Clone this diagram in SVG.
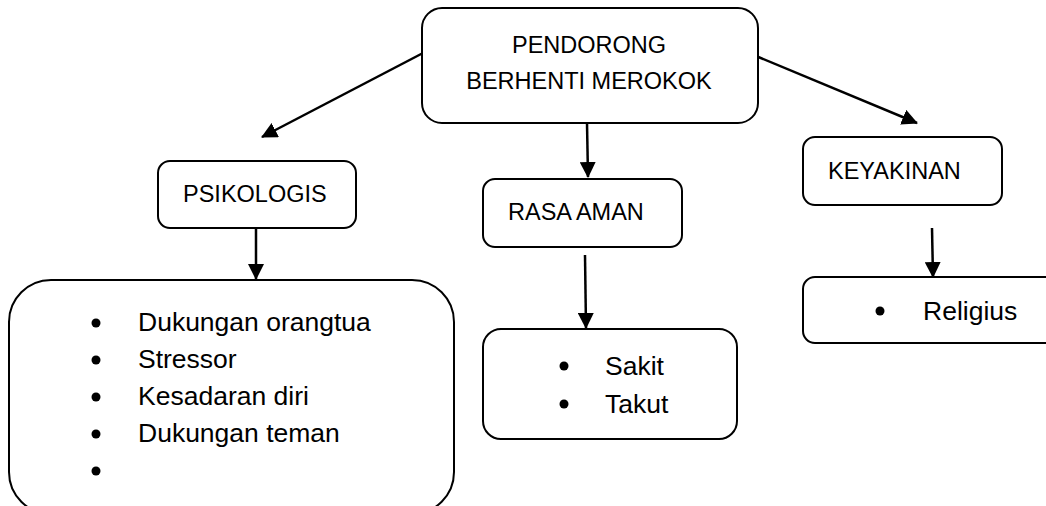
<svg xmlns="http://www.w3.org/2000/svg" width="1046" height="506" viewBox="0 0 1046 506">
<style>
.box{fill:#fff;stroke:#000;stroke-width:2}
.cap{font-family:"Liberation Sans",Arial,sans-serif;font-size:23.5px;fill:#000}
.item{font-family:"Liberation Sans",Arial,sans-serif;font-size:26.5px;fill:#000}
.conn{stroke:#000;stroke-width:2.5;fill:none;marker-end:url(#ah)}
</style>
<defs>
<marker id="ah" markerUnits="userSpaceOnUse" markerWidth="16" markerHeight="16" viewBox="0 0 16 16" refX="15" refY="8" orient="auto">
<path d="M0,0 L16,8 L0,16 Z" fill="#000"/>
</marker>
</defs>
<rect width="1046" height="506" fill="#fff"/>
<g id="connectors">
<line class="conn" x1="423" y1="53" x2="262" y2="137"/>
<line class="conn" x1="756" y1="56" x2="917" y2="123"/>
<line class="conn" x1="587" y1="123" x2="588" y2="177"/>
<line class="conn" x1="256" y1="228" x2="256" y2="279"/>
<line class="conn" x1="585" y1="255" x2="586" y2="328"/>
<line class="conn" x1="932" y1="228" x2="933" y2="277"/>
</g>
<g id="pendorong">
<rect class="box" x="422" y="8" width="336" height="115" rx="20"/>
<text class="cap" x="589" y="53" text-anchor="middle">PENDORONG</text>
<text class="cap" x="589" y="89" text-anchor="middle">BERHENTI MEROKOK</text>
</g>
<g id="psikologis">
<rect class="box" x="158" y="161" width="198" height="67" rx="12"/>
<text class="cap" x="183" y="202">PSIKOLOGIS</text>
</g>
<g id="rasa-aman">
<rect class="box" x="483" y="179" width="199" height="68" rx="12"/>
<text class="cap" x="508" y="220">RASA AMAN</text>
</g>
<g id="keyakinan">
<rect class="box" x="803" y="137" width="199" height="68" rx="12"/>
<text class="cap" x="828" y="179">KEYAKINAN</text>
</g>
<g id="psikologis-list">
<rect class="box" x="9" y="280" width="445" height="234" rx="42"/>
<circle cx="96" cy="323" r="4.5"/>
<circle cx="96" cy="360" r="4.5"/>
<circle cx="96" cy="397" r="4.5"/>
<circle cx="96" cy="434" r="4.5"/>
<circle cx="96" cy="471" r="4.5"/>
<text class="item" x="138" y="331">Dukungan orangtua</text>
<text class="item" x="138" y="368">Stressor</text>
<text class="item" x="138" y="405">Kesadaran diri</text>
<text class="item" x="138" y="442">Dukungan teman</text>
</g>
<g id="rasa-aman-list">
<rect class="box" x="483" y="329" width="254" height="110" rx="18"/>
<circle cx="564" cy="366" r="4.5"/>
<circle cx="564" cy="404" r="4.5"/>
<text class="item" x="605" y="375">Sakit</text>
<text class="item" x="605" y="413">Takut</text>
</g>
<g id="keyakinan-list">
<rect class="box" x="803" y="277" width="260" height="66" rx="12"/>
<circle cx="880" cy="311" r="4.5"/>
<text class="item" x="923" y="320">Religius</text>
</g>
</svg>
